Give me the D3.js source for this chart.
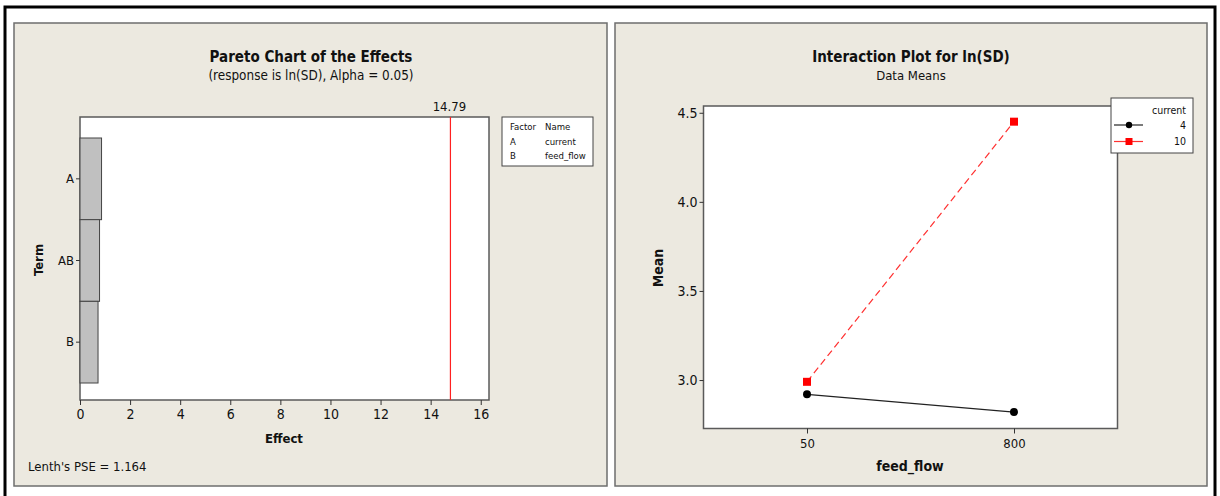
<!DOCTYPE html>
<html lang="en">
<head>
  <meta charset="utf-8">
  <title>Pareto and Interaction Plot</title>
  <script src="https://cdnjs.cloudflare.com/ajax/libs/d3/7.8.5/d3.min.js"></script>
  <style type="text/css">
    body { margin: 0; background: #fff; }
    text { font-family: "DejaVu Sans Condensed", "Liberation Sans Narrow", sans-serif; fill: #111; }
    .panel { fill: #ece9e0; stroke: #6e6e6e; stroke-width: 1.5; }
    .plot { fill: #fff; stroke: #5a5a5a; stroke-width: 1.5; }
    .axis path { display: none; }
    .axis line { stroke: #333; }
    .bold { font-weight: bold; }
  </style>
</head>
<body>
  <script>
    var w = 1220;
    var h = 496;

    // Pareto chart data
    var terms = ['A', 'AB', 'B'];
    var effects = [0.86, 0.78, 0.72];
    var critical = 14.79;
    var effectTicks = [0, 2, 4, 6, 8, 10, 12, 14, 16];
    var factorCodes = ['A', 'B'];
    var factorNames = ['current', 'feed_flow'];

    // Interaction plot data
    var feedFlow = ['50', '800'];
    var currentLevels = ['4', '10'];
    var meansCurrent4 = [2.92, 2.82];
    var meansCurrent10 = [2.99, 4.45];
    var meanTicks = [3.0, 3.5, 4.0, 4.5];

    var svg = d3.select('body')
      .append('svg')
      .attr('width', w)
      .attr('height', h);

    // outer frame
    svg.append('rect')
      .attr('x', 5).attr('y', 7).attr('width', 1210).attr('height', 500)
      .attr('fill', 'none').attr('stroke', '#000').attr('stroke-width', 3);

    // ---------- left panel: Pareto ----------
    svg.append('rect').attr('class', 'panel')
      .attr('x', 14).attr('y', 23).attr('width', 593).attr('height', 463);

    var xScale = d3.scaleLinear().domain([0, 16.33]).range([80, 489]);
    var yScale = d3.scaleBand().domain(terms).range([138, 383]).paddingInner(0);

    svg.append('rect').attr('class', 'plot')
      .attr('x', xScale(0)).attr('y', 117)
      .attr('width', xScale(16.33) - xScale(0)).attr('height', 283);

    svg.append('text').attr('class', 'bold')
      .attr('x', 311).attr('y', 62).attr('text-anchor', 'middle')
      .attr('font-size', 15).text('Pareto Chart of the Effects');
    svg.append('text')
      .attr('x', 311).attr('y', 80).attr('text-anchor', 'middle')
      .attr('font-size', 13.4).text('(response is ln(SD), Alpha = 0.05)');

    svg.selectAll('.bar')
      .data(terms)
      .enter()
      .append('rect')
      .attr('class', 'bar')
      .attr('x', xScale(0))
      .attr('y', d => yScale(d))
      .attr('width', (d, i) => xScale(effects[i]) - xScale(0))
      .attr('height', yScale.bandwidth())
      .attr('fill', '#c0c0c0')
      .attr('stroke', '#444')
      .attr('stroke-width', 1);

    svg.append('line')
      .attr('x1', xScale(critical)).attr('x2', xScale(critical))
      .attr('y1', 117).attr('y2', 400)
      .attr('stroke', '#ff2020').attr('stroke-width', 1.2);
    svg.append('text')
      .attr('x', xScale(critical) - 1).attr('y', 111).attr('text-anchor', 'middle')
      .attr('font-size', 13).text(critical);

    svg.append('g').attr('class', 'axis')
      .attr('transform', 'translate(0,400)')
      .call(d3.axisBottom(xScale).tickValues(effectTicks).tickSize(5).tickPadding(4))
      .selectAll('text').attr('font-size', 14);

    svg.append('g').attr('class', 'axis')
      .attr('transform', 'translate(80,0)')
      .call(d3.axisLeft(yScale).tickSize(4).tickPadding(2))
      .selectAll('text').attr('font-size', 13);

    svg.append('text').attr('class', 'bold')
      .attr('x', 284).attr('y', 443).attr('text-anchor', 'middle')
      .attr('font-size', 13).text('Effect');
    svg.append('text').attr('class', 'bold')
      .attr('transform', 'translate(43,260) rotate(-90)')
      .attr('text-anchor', 'middle')
      .attr('font-size', 13).text('Term');
    svg.append('text')
      .attr('x', 28).attr('y', 471)
      .attr('font-size', 13).text("Lenth's PSE = 1.164");

    // factor legend
    svg.append('rect')
      .attr('x', 502).attr('y', 117).attr('width', 91).attr('height', 49)
      .attr('fill', '#fff').attr('stroke', '#444');
    var legRows = [['Factor', 'Name']].concat(factorCodes.map((c, i) => [c, factorNames[i]]));
    legRows.forEach(function (r, i) {
      svg.append('text').attr('x', 510).attr('y', 130 + i * 14.5)
        .attr('font-size', 9.5).text(r[0]);
      svg.append('text').attr('x', 545).attr('y', 130 + i * 14.5)
        .attr('font-size', 9.5).text(r[1]);
    });

    // ---------- right panel: interaction plot ----------
    svg.append('rect').attr('class', 'panel')
      .attr('x', 615).attr('y', 23).attr('width', 592).attr('height', 463);

    var fx = d3.scalePoint().domain(feedFlow).range([703.5, 1117.5]).padding(0.5);
    var my = d3.scaleLinear().domain([2.728, 4.538]).range([428.5, 106]);

    svg.append('rect').attr('class', 'plot')
      .attr('x', 703.5).attr('y', 106).attr('width', 414).attr('height', 322.5);

    svg.append('text').attr('class', 'bold')
      .attr('x', 911).attr('y', 62).attr('text-anchor', 'middle')
      .attr('font-size', 15).text('Interaction Plot for ln(SD)');
    svg.append('text')
      .attr('x', 911).attr('y', 80).attr('text-anchor', 'middle')
      .attr('font-size', 13).text('Data Means');

    svg.append('g').attr('class', 'axis')
      .attr('transform', 'translate(0,428.5)')
      .call(d3.axisBottom(fx).tickSize(5).tickPadding(5))
      .selectAll('text').attr('font-size', 13);

    svg.append('g').attr('class', 'axis')
      .attr('transform', 'translate(703.5,0)')
      .call(d3.axisLeft(my).tickValues(meanTicks).tickFormat(d3.format('.1f')).tickSize(4).tickPadding(2))
      .selectAll('text').attr('font-size', 14);

    svg.append('text').attr('class', 'bold')
      .attr('x', 910).attr('y', 471).attr('text-anchor', 'middle')
      .attr('font-size', 14).text('feed_flow');
    svg.append('text').attr('class', 'bold')
      .attr('transform', 'translate(663,268) rotate(-90)')
      .attr('text-anchor', 'middle')
      .attr('font-size', 14).text('Mean');

    var line = d3.line()
      .x((d, i) => fx(feedFlow[i]))
      .y(d => my(d));

    svg.append('path').datum(meansCurrent4)
      .attr('d', line).attr('fill', 'none')
      .attr('stroke', '#222').attr('stroke-width', 1.2);
    svg.append('path').datum(meansCurrent10)
      .attr('d', line).attr('fill', 'none')
      .attr('stroke', '#ff3030').attr('stroke-width', 1.2)
      .attr('stroke-dasharray', '7,4');

    svg.selectAll('.dot4')
      .data(meansCurrent4).enter().append('circle')
      .attr('cx', (d, i) => fx(feedFlow[i])).attr('cy', d => my(d))
      .attr('r', 4).attr('fill', '#000');
    svg.selectAll('.sq10')
      .data(meansCurrent10).enter().append('rect')
      .attr('x', (d, i) => fx(feedFlow[i]) - 4).attr('y', d => my(d) - 4)
      .attr('width', 8).attr('height', 8).attr('fill', '#ff0000');

    // series legend
    svg.append('rect')
      .attr('x', 1111).attr('y', 98).attr('width', 82).attr('height', 55)
      .attr('fill', '#fff').attr('stroke', '#444');
    svg.append('text').attr('x', 1186).attr('y', 114).attr('text-anchor', 'end')
      .attr('font-size', 10.5).text('current');
    currentLevels.forEach(function (lv, i) {
      var ly = 125 + i * 16.5;
      svg.append('line').attr('x1', 1114).attr('x2', 1143).attr('y1', ly).attr('y2', ly)
        .attr('stroke', i === 0 ? '#222' : '#ff3030').attr('stroke-width', 1.2);
      if (i === 0) {
        svg.append('circle').attr('cx', 1129).attr('cy', ly).attr('r', 3.2).attr('fill', '#000');
      } else {
        svg.append('rect').attr('x', 1125.5).attr('y', ly - 3.5).attr('width', 7).attr('height', 7).attr('fill', '#ff0000');
      }
      svg.append('text').attr('x', 1186).attr('y', ly + 3.5).attr('text-anchor', 'end')
        .attr('font-size', 10.5).text(lv);
    });
  </script>
</body>
</html>
